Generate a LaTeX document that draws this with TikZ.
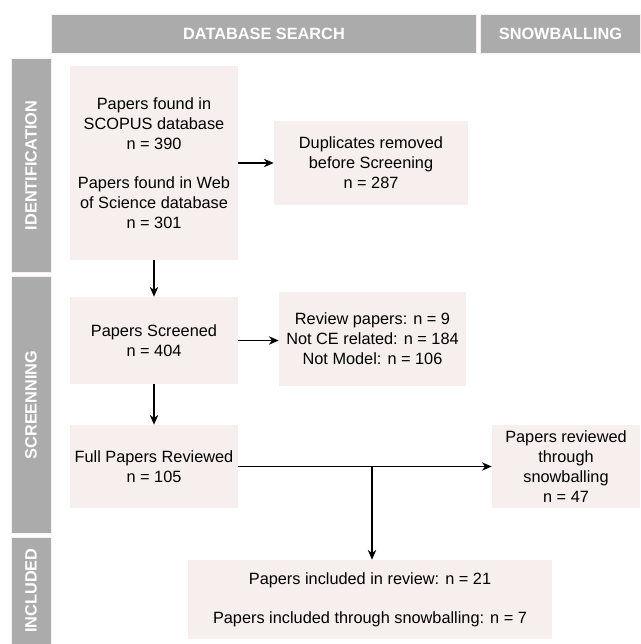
\documentclass[tikz,border=0pt]{standalone}
\usepackage{fontspec}
\setmainfont{Liberation Sans}
\usetikzlibrary{arrows.meta, positioning}
\definecolor{bargray}{HTML}{ABABAB}
\definecolor{paperpink}{HTML}{F6EFED}

\begin{document}
\begin{tikzpicture}[
			x=0.025cm, y=-0.025cm,
			font=\fontsize{11.6}{14.2}\selectfont,
			box/.style={fill=paperpink, align=center, inner sep=2pt},
			bar/.style={fill=bargray, draw=paperpink, line width=0.7pt, text=white,
				font=\fontsize{11.6}{12}\selectfont\bfseries},
			sidebar/.style={bar, rotate=90, minimum height=1cm}
			]

			\useasboundingbox (0,0) rectangle (640,644);

			\node[bar, minimum width=10.6cm, minimum height=0.975cm] (dbsearch) at (264,33.5) {DATABASE SEARCH};
			\node[bar, minimum width=3.975cm, minimum height=0.975cm] (snowhead) at (560.5,33.5) {SNOWBALLING};

			\node[sidebar, minimum width=5.325cm] (ident) at (31,165.5) {IDENTIFICATION};
			\node[sidebar, minimum width=6.4cm] (screen) at (31,405) {SCREENNING};
			\node[sidebar, minimum width=2.675cm] (incl) at (31,590.5) {INCLUDED};

			\node[box, minimum width=4.2cm, minimum height=4.85cm] (found) at (154,163)
			{Papers found in\\ SCOPUS database\\ n = 390\\[13.5pt] Papers found in Web\\ of Science database\\ n = 301};
			\node[box, minimum width=4.85cm, minimum height=2.1cm] (dups) at (371,163)
			{Duplicates removed\\ before Screening\\ n = 287};
			\node[box, minimum width=4.2cm, minimum height=2.175cm] (screened) at (154,340.5)
			{Papers Screened\\ n = 404};
			\node[box, minimum width=4.675cm, minimum height=2.35cm] (excluded) at (372.5,339)
			{Review papers: n = 9\\ Not CE related: n = 184\\ Not Model: n = 106};
			\node[box, minimum width=4.2cm, minimum height=2.075cm] (fullrev) at (154,466.5)
			{Full Papers Reviewed\\ n = 105};
			\node[box, minimum width=3.7cm, minimum height=2.075cm] (snowrev) at (566,466.5)
			{Papers reviewed\\ through\\ snowballing\\ n = 47};
			\node[box, minimum width=9.1cm, minimum height=1.975cm] (included) at (370,599.5)
			{Papers included in review: n = 21\\[13.5pt] Papers included through snowballing: n = 7};

			\coordinate (split) at (fullrev.east -| 372,0);

			\foreach \a/\b in {found/dups, found/screened, screened/fullrev, fullrev/snowrev} {
				\draw[-{Stealth[length=7pt, width=6pt]}, line width=0.9pt] (\a) -- (\b);
			}
			\draw[-{Stealth[length=7pt, width=6pt]}, line width=0.9pt] (screened.east) -- (screened.east -| excluded.west);
			\draw[-{Stealth[length=7pt, width=6pt]}, line width=0.9pt] (split) -- (split |- included.north);

		\end{tikzpicture}
\end{document}
